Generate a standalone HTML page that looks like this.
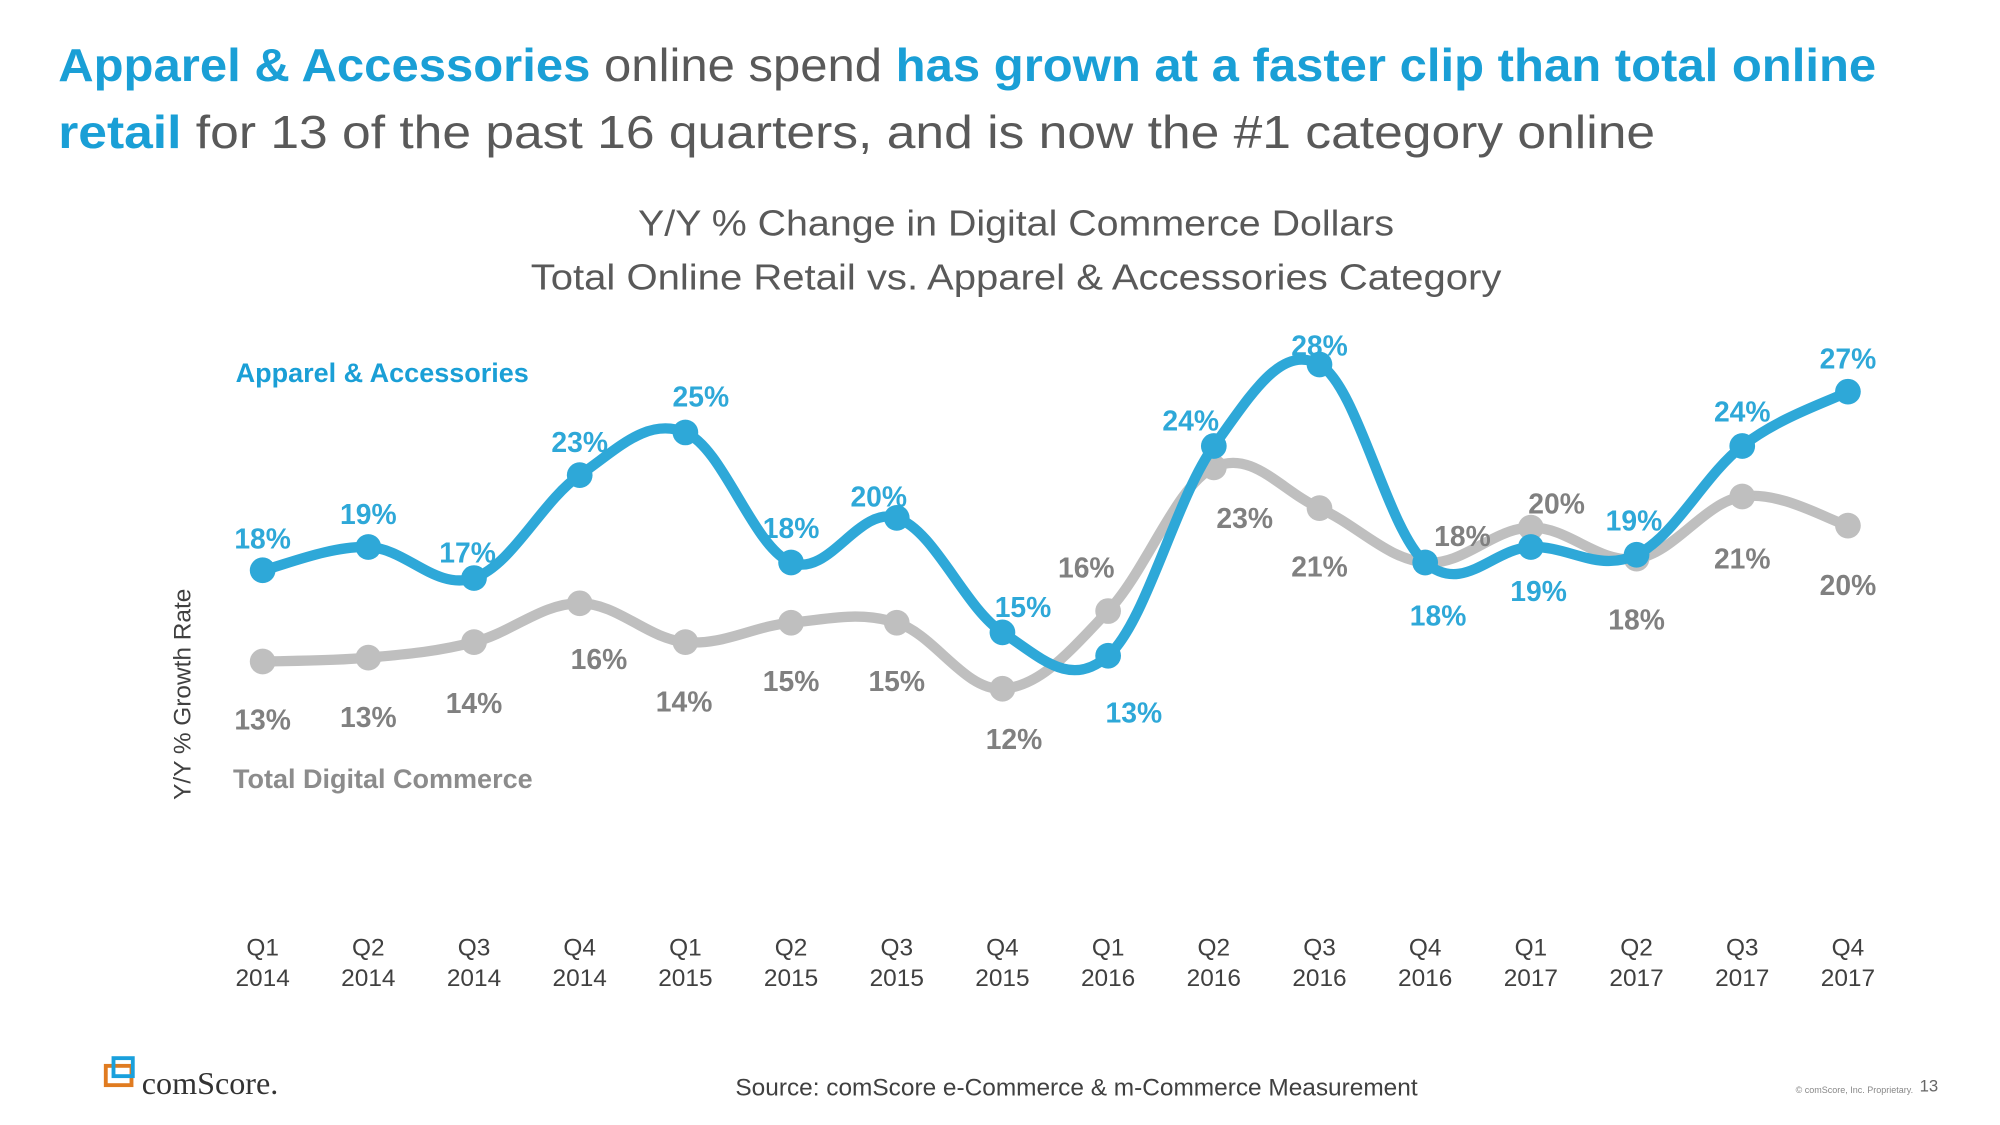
<!DOCTYPE html>
<html><head><meta charset="utf-8"><style>
html,body{margin:0;padding:0;background:#fff;}
svg{display:block;}
</style></head><body>
<svg id="chart" width="2000" height="1125" viewBox="0 0 1555 875" xmlns="http://www.w3.org/2000/svg" font-family="Liberation Sans, sans-serif">
<text x="45" y="63" font-size="36" fill="#595959" textLength="1414" lengthAdjust="spacingAndGlyphs"><tspan fill="#1a9fd6" font-weight="bold">Apparel &amp; Accessories</tspan> online spend <tspan fill="#1a9fd6" font-weight="bold">has grown at a faster clip than total online</tspan></text>
<text x="45" y="115" font-size="36" fill="#595959" textLength="1242" lengthAdjust="spacingAndGlyphs"><tspan fill="#1a9fd6" font-weight="bold">retail</tspan> for 13 of the past 16 quarters, and is now the #1 category online</text>
<text x="790" y="183" font-size="28" fill="#595959" text-anchor="middle" textLength="588" lengthAdjust="spacingAndGlyphs">Y/Y % Change in Digital Commerce Dollars</text>
<text x="790" y="225" font-size="28" fill="#595959" text-anchor="middle" textLength="755" lengthAdjust="spacingAndGlyphs">Total Online Retail vs. Apparel &amp; Accessories Category</text>
<text transform="translate(148,540) rotate(-90)" font-size="19" fill="#404040" text-anchor="middle">Y/Y % Growth Rate</text>
<text x="183" y="297" font-size="21" font-weight="bold" fill="#1a9fd6">Apparel &amp; Accessories</text>
<text x="181" y="613" font-size="21" font-weight="bold" fill="#8c8c8c">Total Digital Commerce</text>
<g id="xaxis"></g>
<g id="series"></g>
<g>
<rect x="82" y="829" width="20" height="15" fill="none" stroke="#e07b20" stroke-width="3"/>
<rect x="88" y="823" width="15" height="14" fill="none" stroke="#1aa0dc" stroke-width="3"/>
<text x="110" y="851" font-family="Liberation Serif, serif" font-size="25" fill="#333">comScore.</text>
</g>
<text x="837" y="852" font-size="19" fill="#404040" text-anchor="middle">Source: comScore e-Commerce &amp; m-Commerce Measurement</text>
<text x="1442" y="850" font-size="7" fill="#888" text-anchor="middle">© comScore, Inc. Proprietary.</text>
<text x="1500" y="849" font-size="13" fill="#666" text-anchor="middle">13</text>
</svg>
<script>
const quarters = ["Q1","Q2","Q3","Q4","Q1","Q2","Q3","Q4","Q1","Q2","Q3","Q4","Q1","Q2","Q3","Q4"];
const years = ["2014","2014","2014","2014","2015","2015","2015","2015","2016","2016","2016","2016","2017","2017","2017","2017"];
const apparelValues = [17.4,18.6,17.0,22.3,24.5,17.8,20.1,14.2,13.0,23.8,28.0,17.8,18.6,18.2,23.8,26.6];
const totalValues = [12.7,12.9,13.7,15.7,13.7,14.7,14.7,11.3,15.3,22.7,20.6,17.8,19.6,18.0,21.2,19.7];
const apparelLabels = ["18%","19%","17%","23%","25%","18%","20%","15%","13%","24%","28%","18%","19%","19%","24%","27%"];
const totalLabels = ["13%","13%","14%","16%","14%","15%","15%","12%","16%","23%","21%","18%","20%","18%","21%","20%"];
// layout-only label offsets (not data)
const apparelOff = [[0,-25],[0,-26],[-5,-20],[0,-26],[12,-28],[0,-27],[-14,-17],[16,-20],[20,44],[-18,-20],[0,-15],[10,41],[6,34],[-2,-27],[0,-27],[0,-26]];
const totalOff = [[0,45],[0,46],[0,47],[15,43],[-1,46],[0,45],[0,45],[9,39],[-17,-34],[24,39],[0,45],[29,-21],[20,-19],[0,47],[0,48],[0,46]];
const NS="http://www.w3.org/2000/svg";
function xScale(i){return 204+i*(1437-204)/(quarters.length-1);}
function yScale(v){return 510-(v-13)*15.1;}
function mk(tag,attrs,parent){const e=document.createElementNS(NS,tag);for(const k in attrs)e.setAttribute(k,attrs[k]);parent.appendChild(e);return e;}
function smoothPath(pts){let d="M"+pts[0][0]+","+pts[0][1];for(let i=0;i<pts.length-1;i++){const p0=pts[i-1]||pts[i],p1=pts[i],p2=pts[i+1],p3=pts[i+2]||p2;const t=0.18;const c1=[p1[0]+(p2[0]-p0[0])*t,p1[1]+(p2[1]-p0[1])*t];const c2=[p2[0]-(p3[0]-p1[0])*t,p2[1]-(p3[1]-p1[1])*t];d+=" C"+c1[0]+","+c1[1]+" "+c2[0]+","+c2[1]+" "+p2[0]+","+p2[1];}return d;}
const xa=document.getElementById("xaxis");
quarters.forEach((q,i)=>{
  const t=mk("text",{x:xScale(i),y:743,"font-size":19,fill:"#404040","text-anchor":"middle"},xa);
  
  
  mk("tspan",{x:xScale(i),dy:0},t).textContent=q;
  mk("tspan",{x:xScale(i),dy:24},t).textContent=years[i];
});
const sg=document.getElementById("series");
function drawSeries(vals,labels,offs,color,labelColor,name){
  const g=mk("g",{},sg);
  
  
  const pts=vals.map((v,i)=>[xScale(i),yScale(v)]);
  const p=mk("path",{d:smoothPath(pts),fill:"none",stroke:color,"stroke-width":8,"stroke-linecap":"round"},g);
  
  
  pts.forEach((pt,i)=>{
    const c=mk("circle",{cx:pt[0],cy:pt[1],r:10,fill:color},g);
    
    
  });
  pts.forEach((pt,i)=>{
    const t=mk("text",{x:pt[0]+offs[i][0],y:pt[1]+offs[i][1]+8,"font-size":22,"font-weight":"bold",fill:labelColor,"text-anchor":"middle"},g);
    
    
    t.textContent=labels[i];
  });
}
drawSeries(totalValues,totalLabels,totalOff,"#bfbfbf","#808080","total");
drawSeries(apparelValues,apparelLabels,apparelOff,"#2ea8d8","#2ea8d8","apparel");
</script>
</body></html>
